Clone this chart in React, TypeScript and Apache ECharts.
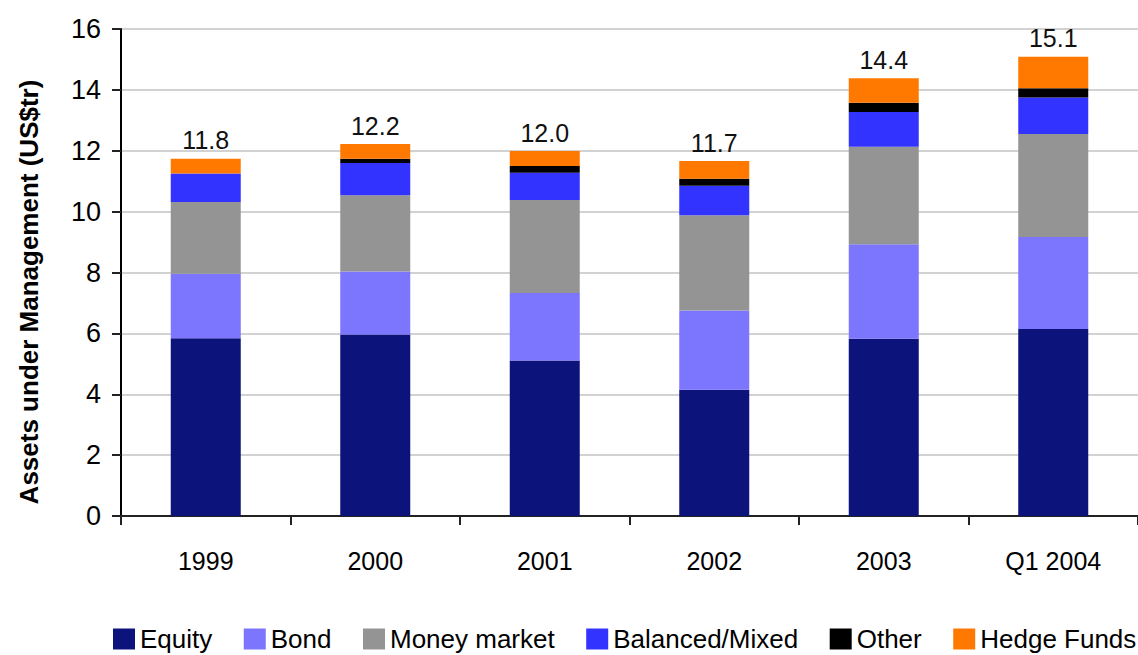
import React, { useEffect, useRef } from "react";
import * as echarts from "echarts";

const categories = ["1999", "2000", "2001", "2002", "2003", "Q1 2004"];
const equity = [5.84, 5.96, 5.11, 4.15, 5.82, 6.14];
const bond = [2.12, 2.07, 2.22, 2.6, 3.11, 3.03];
const moneyMarket = [2.36, 2.51, 3.05, 3.13, 3.2, 3.38];
const balanced = [0.93, 1.06, 0.9, 0.97, 1.14, 1.2];
const other = [0, 0.14, 0.22, 0.23, 0.31, 0.3];
const hedgeFunds = [0.49, 0.48, 0.49, 0.58, 0.8, 1.04];
const totals = [11.8, 12.2, 12.0, 11.7, 14.4, 15.1];
const yTicks = { min: 0, max: 16, interval: 2 };

const SANS = '"Liberation Sans", Arial, sans-serif';

export default function App() {
  const ref = useRef<HTMLDivElement>(null);
  useEffect(() => {
    if (!ref.current) return;
    const chart = echarts.init(ref.current, undefined, { renderer: "svg" });
    const mk = (name: string, data: number[], color: string, extra: any = {}) => ({
      name,
      type: "bar",
      stack: "aum",
      data,
      barWidth: 70,
      itemStyle: { color },
      emphasis: { disabled: true },
      ...extra,
    });
    chart.setOption({
      animation: false,
      backgroundColor: "#ffffff",
      grid: { left: 121, right: -4, top: 29, bottom: 139, containLabel: false },
      legend: {
        left: 113,
        top: 626,
        icon: "rect",
        itemWidth: 22,
        itemHeight: 21,
        itemGap: 31.5,
        padding: 0,
        textStyle: { fontFamily: SANS, fontSize: 26, color: "#000" },
        data: ["Equity", "Bond", "Money market", "Balanced/Mixed", "Other", "Hedge Funds"],
      },
      graphic: [
        {
          type: "text",
          x: 29,
          y: 292,
          rotation: Math.PI / 2,
          style: {
            text: "Assets under Management (US$tr)",
            fontFamily: SANS,
            fontWeight: "bold",
            fontSize: 26,
            fill: "#000",
            align: "center",
            verticalAlign: "middle",
          },
        },
      ],
      xAxis: {
        type: "category",
        data: categories,
        axisLine: { lineStyle: { color: "#222", width: 2 } },
        axisTick: { show: true, length: 9, lineStyle: { color: "#222", width: 2 } },
        axisLabel: { fontFamily: SANS, fontSize: 25, color: "#000", margin: 32 },
      },
      yAxis: {
        type: "value",
        min: yTicks.min,
        max: yTicks.max,
        interval: yTicks.interval,
        axisLine: { show: true, lineStyle: { color: "#000", width: 2 } },
        axisTick: { show: true, length: 9, lineStyle: { color: "#222", width: 2 } },
        axisLabel: { fontFamily: SANS, fontSize: 27, color: "#000", margin: 20 },
        splitLine: { lineStyle: { color: "#d2d2d2", width: 2 } },
      },
      series: [
        mk("Equity", equity, "#0c137a"),
        mk("Bond", bond, "#7c75fd"),
        mk("Money market", moneyMarket, "#949494"),
        mk("Balanced/Mixed", balanced, "#3333ff"),
        mk("Other", other, "#000000"),
        mk("Hedge Funds", hedgeFunds, "#ff7800", {
          label: {
            show: true,
            position: "top",
            distance: 6,
            fontFamily: SANS,
            fontSize: 25,
            color: "#111",
            formatter: (p: any) => totals[p.dataIndex].toFixed(1),
          },
        }),
      ],
    });
    return () => chart.dispose();
  }, []);
  return (
    <div
      ref={ref}
      style={{ position: "fixed", left: 0, top: 0, width: 1138, height: 655, background: "#fff" }}
    />
  );
}
